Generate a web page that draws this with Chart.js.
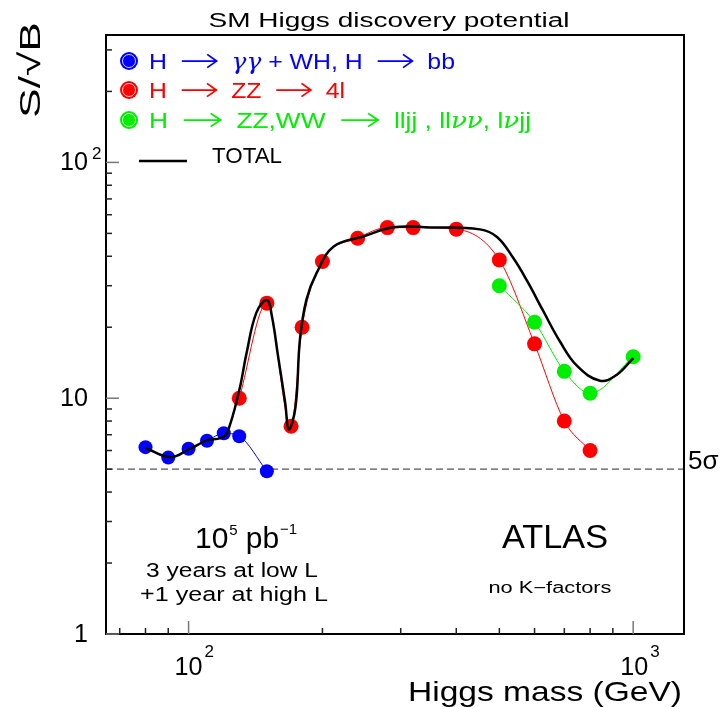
<!DOCTYPE html>
<html>
<head>
<meta charset="utf-8">
<script src="https://cdn.jsdelivr.net/npm/chart.js@4.4.1/dist/chart.umd.min.js"></script>
<style>
  html, body { margin: 0; padding: 0; background: #fff; }
  #wrap { width: 723px; height: 707px; }
</style>
</head>
<body>
<div id="wrap"><canvas id="chart" width="723" height="707"></canvas></div>
<script>
// H -> gamma gamma + WH, H -> bb
const ggMass = [80, 90, 100, 110, 120, 130, 150];
const ggSig = [6.2, 5.6, 6.1, 6.6, 7.1, 6.9, 4.9];

// H -> ZZ -> 4l
const zzMass = [130, 150, 170, 180, 200, 240, 280, 320, 400, 500, 600, 700, 800];
const zzSig = [10.0, 25.3, 7.6, 20.0, 38.0, 47.7, 52.9, 52.9, 52.1, 38.6, 17.0, 8.0, 6.0];

// H -> ZZ,WW -> lljj, llnunu, lnujj
const llMass = [500, 600, 700, 800, 1000];
const llSig = [30.0, 21.0, 13.0, 10.5, 15.0];

// TOTAL
const totMass = [80, 91, 100, 110, 118, 122, 130, 135, 142, 150, 154, 159, 165, 168, 174, 178, 184, 194, 212, 247, 289, 350, 452, 494, 537, 577, 627, 685, 748, 842, 919, 1000];
const totSig = [6.15, 5.62, 6.05, 6.62, 6.77, 7.1, 10.8, 15.5, 23.0, 26.1, 22.2, 15.0, 9.5, 7.35, 9.2, 17.7, 26.1, 33.9, 44.0, 48.5, 53.1, 53.0, 52.0, 48.3, 39.4, 31.5, 23.5, 17.35, 13.7, 11.86, 12.58, 14.8];

const fiveSigma = 5;

const xRange = [65.2, 1301];
const yRange = [1, 347];
const xTicks = [70, 80, 90, 100, 200, 300, 400, 500, 600, 700, 800, 900, 1000];
const yTicks = [1, 2, 3, 4, 5, 6, 7, 8, 9, 10, 20, 30, 40, 50, 60, 70, 80, 90, 100, 200, 300];
const majorTicks = [1, 10, 100, 1000];

const BLUE = '#0000ff', RED = '#ff0000', GREEN = '#00ee00';
const FONT = '"Liberation Sans", Arial, sans-serif';

const pts = (xs, ys) => xs.map((x, i) => ({ x, y: ys[i] }));

function text(ctx, s, x, y, size, color, align, width) {
  ctx.save();
  ctx.font = size + 'px ' + FONT;
  ctx.fillStyle = color;
  ctx.textBaseline = 'alphabetic';
  const w0 = ctx.measureText(s).width;
  const sx = width ? width / w0 : 1;
  const w = w0 * sx;
  let left = x;
  if (align === 'center') left = x - w / 2;
  else if (align === 'right') left = x - w;
  ctx.translate(left, y);
  ctx.scale(sx, 1);
  ctx.textAlign = 'left';
  ctx.fillText(s, 0, 0);
  ctx.restore();
  return w;
}

function supText(ctx, base, sup, x, y, size, supSize, color) {
  ctx.save();
  ctx.font = size + 'px ' + FONT;
  const wb = ctx.measureText(base).width;
  ctx.font = supSize + 'px ' + FONT;
  const ws = ctx.measureText(sup).width;
  ctx.restore();
  text(ctx, base, x, y, size, color, 'left');
  text(ctx, sup, x + wb + 1, y - size * 0.45, supSize, color, 'left');
  return wb + ws + 1;
}

// legend line: strings, {it:'..'} for italic greek, 'A' for a long arrow
function richLine(ctx, parts, x, y, size, color, width) {
  const ARW = size * 2.6;
  const fontOf = p => (typeof p === 'object' ? 'italic ' + size + 'px "DejaVu Serif", serif' : size + 'px ' + FONT);
  const wOf = p => {
    if (p === 'A') return ARW;
    ctx.font = fontOf(p);
    return ctx.measureText(typeof p === 'object' ? p.it : p).width;
  };
  ctx.save();
  const natural = parts.reduce((s, p) => s + wOf(p), 0);
  const sx = width ? width / natural : 1;
  ctx.translate(x, y);
  ctx.scale(sx, 1);
  ctx.fillStyle = color;
  ctx.strokeStyle = color;
  ctx.textBaseline = 'alphabetic';
  let cx = 0;
  parts.forEach(p => {
    if (p === 'A') {
      const ay = -size * 0.36;
      const x0 = cx + size * 0.6, x1 = cx + size * 2.0;
      ctx.lineWidth = 1.6;
      ctx.beginPath();
      ctx.moveTo(x0, ay); ctx.lineTo(x1, ay);
      ctx.moveTo(x1 - size * 0.38, ay - size * 0.3); ctx.lineTo(x1, ay); ctx.lineTo(x1 - size * 0.38, ay + size * 0.3);
      ctx.stroke();
      cx += ARW;
    } else {
      ctx.font = fontOf(p);
      const s = typeof p === 'object' ? p.it : p;
      ctx.fillText(s, cx, 0);
      cx += ctx.measureText(s).width;
    }
  });
  ctx.restore();
}

const decor = {
  id: 'decor',
  afterDraw(chart) {
    const ctx = chart.ctx;
    const a = chart.chartArea;
    const xs = chart.scales.x, ys = chart.scales.y;

    // frame
    ctx.save();
    ctx.strokeStyle = '#000';
    ctx.lineWidth = 2;
    ctx.strokeRect(a.left, a.top, a.right - a.left, a.bottom - a.top);

    // ticks (inside)
    ctx.lineWidth = 1.5;
    xTicks.forEach(v => {
      const px = xs.getPixelForValue(v);
      const len = majorTicks.includes(v) ? 13 : 6;
      ctx.strokeStyle = majorTicks.includes(v) ? '#777' : '#222';
      ctx.beginPath(); ctx.moveTo(px, a.bottom); ctx.lineTo(px, a.bottom - len); ctx.stroke();
    });
    yTicks.forEach(v => {
      const py = ys.getPixelForValue(v);
      const len = majorTicks.includes(v) ? 13 : 6;
      ctx.strokeStyle = majorTicks.includes(v) ? '#777' : '#222';
      ctx.beginPath(); ctx.moveTo(a.left, py); ctx.lineTo(a.left + len, py); ctx.stroke();
    });
    ctx.restore();

    // x tick labels
    const x100 = xs.getPixelForValue(100), x1000 = xs.getPixelForValue(1000);
    text(ctx, '10', x100 - 14, 675, 25, '#000', 'left', 28);
    text(ctx, '2', x100 + 16, 657, 17, '#000', 'left');
    text(ctx, '10', x1000 - 13, 675, 25, '#000', 'left', 28);
    text(ctx, '3', x1000 + 17, 657, 17, '#000', 'left');

    // y tick labels
    const y1 = ys.getPixelForValue(1), y10 = ys.getPixelForValue(10), y100 = ys.getPixelForValue(100);
    text(ctx, '10', 88, y100 + 8, 25, '#000', 'right', 28);
    text(ctx, '2', 92, y100 - 3, 17, '#000', 'left');
    text(ctx, '10', 88, y10 + 8, 25, '#000', 'right', 28);
    text(ctx, '1', 88, y1 + 8, 25, '#000', 'right');

    // title and axis titles
    text(ctx, 'SM Higgs discovery potential', 389, 27, 20, '#000', 'center', 361);
    text(ctx, 'Higgs mass (GeV)', 682, 701, 28, '#000', 'right', 274);
    ctx.save();
    ctx.translate(40, 22);
    ctx.rotate(-Math.PI / 2);
    text(ctx, 'S/\u221aB', 0, 0, 30, '#000', 'right', 96);
    ctx.restore();

    // 5 sigma label
    text(ctx, '5\u03c3', 688, 469, 26, '#000', 'left');

    // legend
    const marker = (cx, cy, col) => {
      ctx.save();
      ctx.fillStyle = col;
      ctx.beginPath(); ctx.arc(cx, cy, 9, 0, Math.PI * 2); ctx.fill();
      ctx.strokeStyle = 'rgba(255,255,255,0.8)';
      ctx.lineWidth = 1;
      ctx.beginPath(); ctx.arc(cx, cy, 6.5, 0, Math.PI * 2); ctx.stroke();
      ctx.restore();
    };
    marker(129, 61, BLUE);
    marker(129, 90, RED);
    marker(129, 120, GREEN);
    richLine(ctx, ['H', 'A', { it: '\u03b3\u03b3' }, ' + WH, H', 'A', 'bb'], 149, 69, 22, BLUE, 306);
    richLine(ctx, ['H', 'A', 'ZZ', 'A', '4l'], 149, 98, 22, RED, 196);
    richLine(ctx, ['H', 'A', 'ZZ,WW', 'A', 'lljj , ll', { it: '\u03bd\u03bd' }, ', l', { it: '\u03bd' }, 'jj'], 149, 128, 22, GREEN, 382);
    ctx.save();
    ctx.strokeStyle = '#000'; ctx.lineWidth = 2.5;
    ctx.beginPath(); ctx.moveTo(139, 161); ctx.lineTo(187, 161); ctx.stroke();
    ctx.restore();
    text(ctx, 'TOTAL', 212, 163, 22, '#000', 'left', 70);

    // annotations
    let w = 195;
    w += supText(ctx, '10', '5', w, 548, 30, 15, '#000');
    w += 8;
    w += text(ctx, 'pb', w, 548, 30, '#000', 'left');
    text(ctx, '\u22121', w + 1, 534, 15, '#000', 'left');
    text(ctx, '3 years at low L', 232, 577, 20, '#000', 'center', 172);
    text(ctx, '+1 year at high L', 234, 601, 20, '#000', 'center', 188);
    text(ctx, 'ATLAS', 555, 548, 34, '#000', 'center', 106);
    text(ctx, 'no K\u2212factors', 550, 593, 16, '#000', 'center', 123);
  }
};

new Chart(document.getElementById('chart').getContext('2d'), {
  type: 'line',
  data: {
    datasets: [
      {
        label: 'TOTAL', data: pts(totMass, totSig), order: 1,
        borderColor: '#000', borderWidth: 2.5, pointRadius: 0,
        tension: 0.4
      },
      {
        label: 'H -> ZZ,WW -> lljj, llvv, lvjj', data: pts(llMass, llSig), order: 2,
        borderColor: GREEN, borderWidth: 1, backgroundColor: GREEN,
        pointRadius: 7.5, pointBorderWidth: 0, pointBackgroundColor: GREEN,
        cubicInterpolationMode: 'monotone'
      },
      {
        label: 'H -> ZZ -> 4l', data: pts(zzMass, zzSig), order: 3,
        borderColor: RED, borderWidth: 1, backgroundColor: RED,
        pointRadius: 7.5, pointBorderWidth: 0, pointBackgroundColor: RED,
        cubicInterpolationMode: 'monotone'
      },
      {
        label: 'H -> gg + WH, H -> bb', data: pts(ggMass, ggSig), order: 4,
        borderColor: BLUE, borderWidth: 1, backgroundColor: BLUE,
        pointRadius: 7, pointBorderWidth: 0, pointBackgroundColor: BLUE,
        cubicInterpolationMode: 'monotone'
      },
      {
        label: '5 sigma', data: pts(xRange, [fiveSigma, fiveSigma]), order: 5,
        borderColor: '#555', borderWidth: 1.2, borderDash: [7, 4], pointRadius: 0
      }
    ]
  },
  options: {
    responsive: false,
    animation: false,
    devicePixelRatio: 1,
    layout: { padding: { left: 106, right: 39, top: 35, bottom: 73 } },
    scales: {
      x: { type: 'logarithmic', min: xRange[0], max: xRange[1], display: false },
      y: { type: 'logarithmic', min: yRange[0], max: yRange[1], display: false }
    },
    plugins: { legend: { display: false }, tooltip: { enabled: false }, title: { display: false } }
  },
  plugins: [decor]
});
</script>
</body>
</html>
